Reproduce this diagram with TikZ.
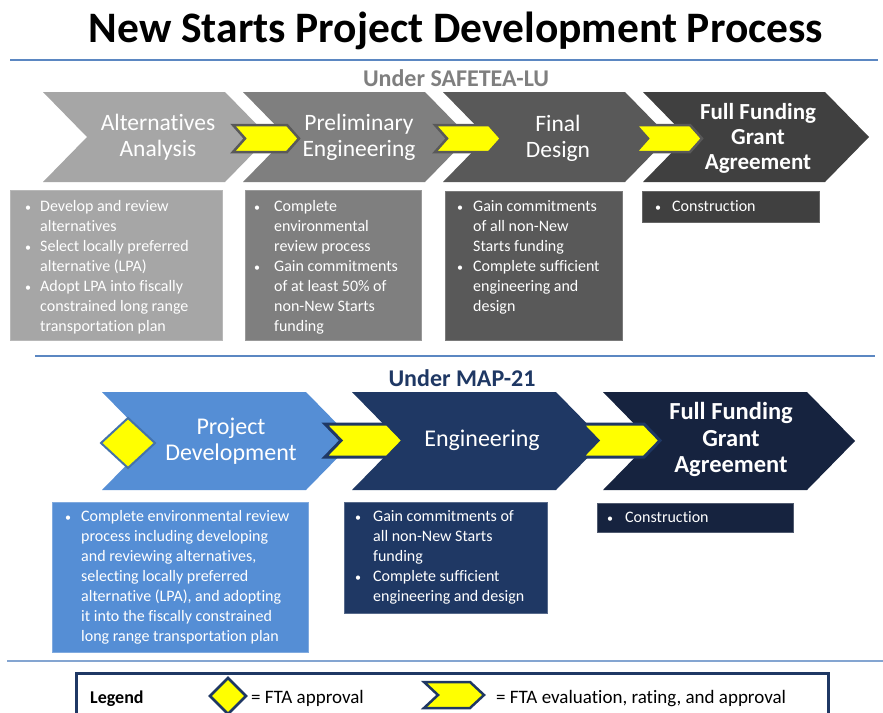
\documentclass[tikz,border=0pt]{standalone}
\usepackage{fontspec}
\setmainfont{Carlito}[Ligatures={NoCommon}]
\definecolor{gA}{HTML}{A6A6A6}
\definecolor{gB}{HTML}{7F7F7F}
\definecolor{gC}{HTML}{595959}
\definecolor{gD}{HTML}{404040}
\definecolor{bA}{HTML}{558ED5}
\definecolor{bB}{HTML}{1F3864}
\definecolor{bC}{HTML}{16233F}
\definecolor{rulec}{HTML}{5B87C2}
\definecolor{yel}{HTML}{FFFF00}
% #1 style, #2 x, #3 ytop, #4 width, #5 height, #6 depth
\newcommand\chev[6]{\path[#1] (#2,#3) -- ++(#4,0) -- ++(#6,#5/2) -- ++(-#6,#5/2) -- ++(-#4,0) -- ++(#6,-#5/2) -- cycle;}
\newcommand\blist[2]{\begin{tabular}[t]{@{}p{#1pt}@{}l@{}}#2\end{tabular}}
\newcommand\bul{{\fontsize{12}{12}\selectfont\textbullet}}
\tikzset{
  chevtxt/.style={text=white, align=center, inner sep=0pt, font=\fontsize{23.5}{26}\selectfont},
  chevbold/.style={text=white, align=center, inner sep=0pt, font=\bfseries\fontsize{23}{25}\selectfont},
  boxtxt/.style={anchor=base west, inner sep=0pt, text=white, font=\fontsize{16}{20}\selectfont},
  legtxt/.style={anchor=base west, inner sep=0pt, font=\fontsize{19}{22}\selectfont},
  hrule/.style={draw=rulec, line width=2pt},
}
\begin{document}
\begin{tikzpicture}[x=1pt,y=-1pt]
\useasboundingbox (0,0) rectangle (883,712);
\clip (0,0) rectangle (883,712);
\fill[white] (0,0) rectangle (883,712);

% title and rules
\node[anchor=base, inner sep=0pt, font=\bfseries\fontsize{43.5}{50}\selectfont] (title) at (456,42) {New Starts Project Development Process};
\draw[hrule] (10,60) -- (878,60);
\node[anchor=base, inner sep=0pt, text=gB, font=\bfseries\fontsize{24}{28}\selectfont] (safe) at (456,86) {Under SAFETEA-LU};

% top chevrons
\chev{fill=gA}{43}{92}{182}{90}{44}
\chev{fill=gB}{243}{92}{182}{90}{44}
\chev{fill=gC}{443}{92}{182}{90}{44}
\chev{fill=gD}{643}{92}{182}{90}{44}
\chev{fill=yel,draw=gC,line width=2.5pt}{233}{125}{54}{27}{12}
\chev{fill=yel,draw=gC,line width=2.5pt}{435}{125}{54}{27}{12}
\chev{fill=yel,draw=gC,line width=2.5pt}{636}{125}{54}{27}{12}
\node[chevtxt] (aa) at (158,137) {Alternatives\\Analysis};
\node[chevtxt] (pe) at (359,137) {Preliminary\\Engineering};
\node[chevtxt] (fd) at (558,138.5) {Final\\Design};
\node[chevbold] (ffga1) at (758,138) {Full Funding\\Grant\\Agreement};

% top boxes
\path[fill=gA, draw=gA!80!white, line width=0.8pt] (10,190) rectangle (222,340);
\path[fill=gB, draw=gB!80!white, line width=0.8pt] (245,190) rectangle (421,340);
\path[fill=gC, draw=gC!80!white, line width=0.8pt] (445,191) rectangle (622,340);
\path[fill=gD, draw=gD!80!white, line width=0.8pt] (642,191) rectangle (819,222);
\node[boxtxt] (t1) at (25,211) {\blist{15}{\bul & Develop and review\\ & alternatives\\ \bul & Select locally preferred\\ & alternative (LPA)\\ \bul & Adopt LPA into fiscally\\ & constrained long range\\ & transportation plan}};
\node[boxtxt] (t2) at (254,211) {\blist{20}{\bul & Complete\\ & environmental\\ & review process\\ \bul & Gain commitments\\ & of at least 50\% of\\ & non-New Starts\\ & funding}};
\node[boxtxt] (t3) at (457,211) {\blist{16}{\bul & Gain commitments\\ & of all non-New\\ & Starts funding\\ \bul & Complete sufficient\\ & engineering and\\ & design}};
\node[boxtxt] (t4) at (655,211) {\blist{17}{\bul & Construction}};

% MAP-21
\draw[hrule] (35,356) -- (875,356);
\node[anchor=base, inner sep=0pt, text=bB, font=\bfseries\fontsize{24}{28}\selectfont] (map) at (462,386) {Under MAP-21};

\chev{fill=bA}{102}{392}{204}{98}{48}
\chev{fill=bB}{352}{392}{204}{98}{48}
\chev{fill=bC}{603}{392}{204}{98}{48}
\path[fill=yel, draw=bA!80!black, line width=2pt] (128,418) -- (155,443) -- (128,468) -- (101,443) -- cycle;
\chev{fill=yel,draw=bB,line width=3pt}{325}{424}{62}{33}{16}
\chev{fill=yel,draw=bB,line width=3pt}{582}{424}{62}{33}{16}
\node[chevtxt, font=\fontsize{24}{26}\selectfont] (pd) at (231,441) {Project\\Development};
\node[chevtxt, font=\fontsize{24}{26}\selectfont] (eng) at (482,440) {Engineering};
\node[chevbold, font=\bfseries\fontsize{24.5}{26.5}\selectfont] (ffga2) at (731,439.5) {Full Funding\\Grant\\Agreement};

\path[fill=bA, draw=bA!75!white, line width=0.8pt] (52,502) rectangle (308,652);
\path[fill=bB, draw=bB!75!white, line width=0.8pt] (344,502) rectangle (547,613);
\path[fill=bC, draw=bC!75!white, line width=0.8pt] (597,503) rectangle (793,532);
\node[boxtxt] (ba) at (65,521) {\blist{16}{\bul & Complete environmental review\\ & process including developing\\ & and reviewing alternatives,\\ & selecting locally preferred\\ & alternative (LPA), and adopting\\ & it into the fiscally constrained\\ & long range transportation plan}};
\node[boxtxt] (bb) at (355,521) {\blist{18}{\bul & Gain commitments of\\ & all non-New Starts\\ & funding\\ \bul & Complete sufficient\\ & engineering and design}};
\node[boxtxt] (bc) at (607,522) {\blist{18}{\bul & Construction}};

% legend
\draw[hrule, draw=rulec!75!white] (7,661) -- (883,661);
\draw[line width=3pt, draw=bB, fill=white] (76,673) rectangle (828,740);
\node[legtxt, font=\bfseries\fontsize{18}{22}\selectfont] (leg) at (90,703) {Legend};
\path[fill=yel, draw=bB, line width=2.5pt] (228,678) -- (246,696) -- (228,714) -- (210,696) -- cycle;
\node[legtxt] (l1) at (251,703) {= FTA approval};
\chev{fill=yel,draw=bB,line width=2.5pt}{424}{682}{46}{26}{14}
\node[legtxt] (l2) at (496,703) {= FTA evaluation, rating, and approval};
\end{tikzpicture}
\end{document}
